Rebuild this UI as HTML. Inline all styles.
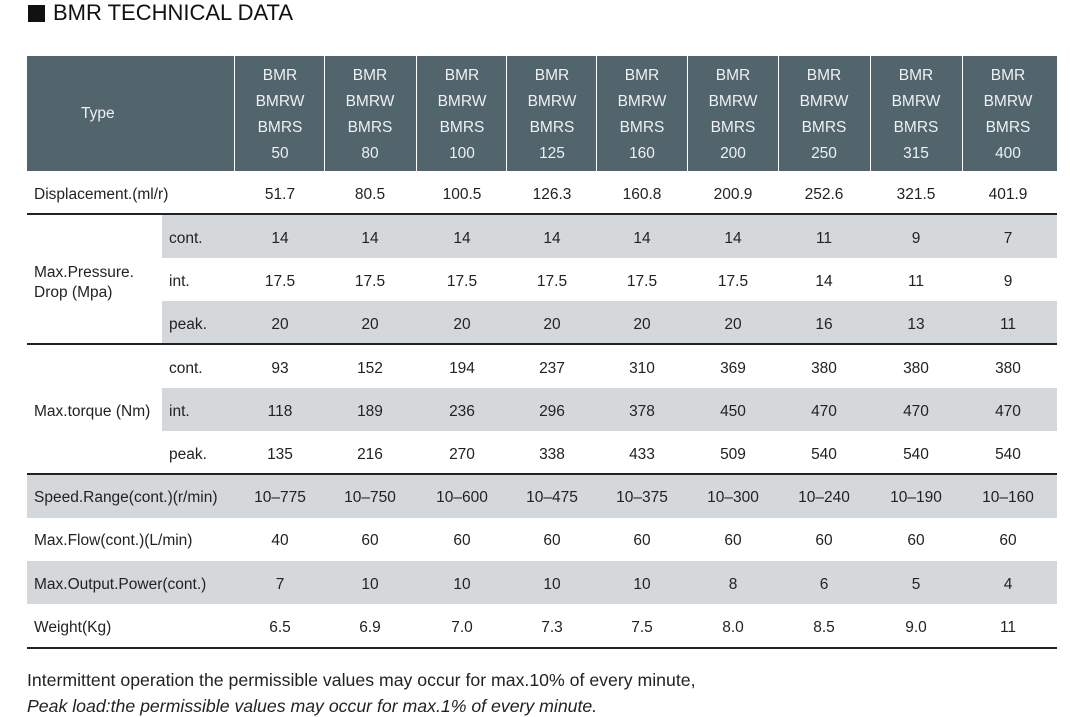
<!DOCTYPE html>
<html><head><style>
body{margin:0;width:1070px;height:717px;background:#fff;font-family:"Liberation Sans",Arial,sans-serif;color:#222;position:relative;overflow:hidden}
.a{position:absolute}
.t{position:absolute;font-size:15.5px;text-align:center;width:91px;line-height:43px;margin-top:2px}
.l{position:absolute;font-size:15.5px;line-height:43px;margin-top:2px}
.h{position:absolute;background:#52646c;top:56px;height:115px}
.hc{position:absolute;color:#eef1f2;font-size:15.5px;text-align:center;width:91px;top:63px;line-height:26px}
.g{position:absolute;background:#d4d8db;height:43px}
.ln{position:absolute;left:27px;width:1030px;height:1.5px;background:#222}
</style></head><body>
<div class="a" style="left:28px;top:5px;width:17px;height:17px;background:#111"></div>
<div class="a" style="left:53px;top:0px;font-size:22px;color:#111">BMR TECHNICAL DATA</div>

<div class="h" style="left:27px;width:1030px"></div>
<div id="seps"></div>
<div class="a" style="left:81px;top:56px;line-height:115px;color:#eef1f2;font-size:15.5px">Type</div>

<div class="g" style="left:162px;width:895px;top:215px"></div>
<div class="g" style="left:162px;width:895px;top:301px"></div>
<div class="g" style="left:162px;width:895px;top:388px"></div>
<div class="g" style="left:27px;width:1030px;top:475px"></div>
<div class="g" style="left:27px;width:1030px;top:561px"></div>
<div class="ln" style="top:213px"></div>
<div class="ln" style="top:343px"></div>
<div class="ln" style="top:473px"></div>
<div class="ln" style="top:647px"></div>

<div class="l" style="left:34px;top:171px">Displacement.(ml/r)</div>
<div class="a" style="left:34px;top:263px;font-size:15.5px;line-height:20px">Max.Pressure.<br>Drop (Mpa)</div>
<div class="l" style="left:34px;top:388px">Max.torque (Nm)</div>
<div class="l" style="left:34px;top:474px">Speed.Range(cont.)(r/min)</div>
<div class="l" style="left:34px;top:517px">Max.Flow(cont.)(L/min)</div>
<div class="l" style="left:34px;top:561px">Max.Output.Power(cont.)</div>
<div class="l" style="left:34px;top:604px">Weight(Kg)</div>
<div class="l" style="left:169px;top:215px">cont.</div>
<div class="l" style="left:169px;top:258px">int.</div>
<div class="l" style="left:169px;top:301px">peak.</div>
<div class="l" style="left:169px;top:345px">cont.</div>
<div class="l" style="left:169px;top:388px">int.</div>
<div class="l" style="left:169px;top:431px">peak.</div>
<div id="cells"></div>

<div class="a" style="left:27px;top:670px;font-size:17.7px;color:#222">Intermittent operation the permissible values may occur for max.10% of every minute,</div>
<div class="a" style="left:27px;top:696px;font-size:17.7px;color:#222;font-style:italic">Peak load:the permissible values may occur for max.1% of every minute.</div>
<script>
var sz=[50,80,100,125,160,200,250,315,400];
var cx=[280,370,462,552,642,733,824,916,1008];
var rows=[[171,["51.7","80.5","100.5","126.3","160.8","200.9","252.6","321.5","401.9"]],
[215,[14,14,14,14,14,14,11,9,7]],[258,["17.5","17.5","17.5","17.5","17.5","17.5",14,11,9]],[301,[20,20,20,20,20,20,16,13,11]],
[345,[93,152,194,237,310,369,380,380,380]],[388,[118,189,236,296,378,450,470,470,470]],[431,[135,216,270,338,433,509,540,540,540]],
[474,["10–775","10–750","10–600","10–475","10–375","10–300","10–240","10–190","10–160"]],[517,[40,60,60,60,60,60,60,60,60]],
[561,[7,10,10,10,10,8,6,5,4]],[604,["6.5","6.9","7.0","7.3","7.5","8.0","8.5","9.0","11"]]];
var h="",s="";
for(var i=0;i<9;i++){var x=cx[i]-45.5;
s+='<div class="a" style="left:'+(x-1)+'px;top:56px;width:1.5px;height:115px;background:#fff"></div>';
h+='<div class="hc" style="left:'+x+'px">BMR<br>BMRW<br>BMRS<br>'+sz[i]+'</div>';
rows.forEach(function(r){h+='<div class="t" style="left:'+x+'px;top:'+r[0]+'px">'+r[1][i]+'</div>'});}
document.getElementById('seps').innerHTML=s;document.getElementById('cells').innerHTML=h;
</script>
</body></html>
